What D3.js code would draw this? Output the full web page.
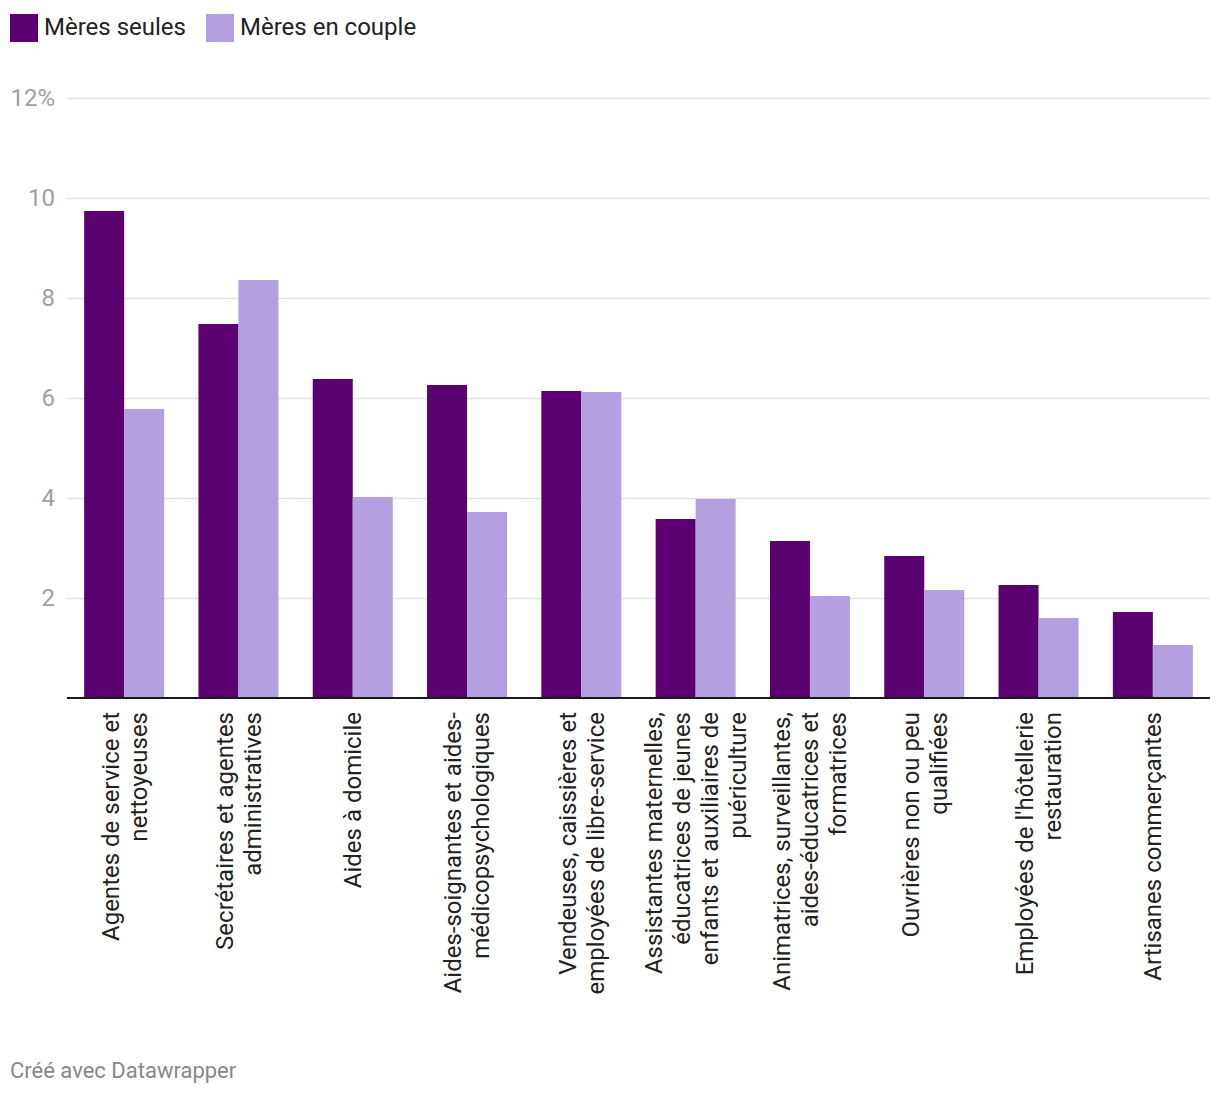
<!DOCTYPE html>
<html><head><meta charset="utf-8">
<script src="https://cdn.jsdelivr.net/npm/d3@7"></script>
<style>
body{margin:0;background:#fff;font-family:Roboto,"Noto Sans",sans-serif;}
</style></head>
<body><svg id="c" width="1220" height="1096"></svg>
<script>
const categoryLines = [
  ["Agentes de service et","nettoyeuses"],
  ["Secrétaires et agentes","administratives"],
  ["Aides à domicile"],
  ["Aides-soignantes et aides-","médicopsychologiques"],
  ["Vendeuses, caissières et","employées de libre-service"],
  ["Assistantes maternelles,","éducatrices de jeunes","enfants et auxiliaires de","puériculture"],
  ["Animatrices, surveillantes,","aides-éducatrices et","formatrices"],
  ["Ouvrières non ou peu","qualifiées"],
  ["Employées de l'hôtellerie","restauration"],
  ["Artisanes commerçantes"]
];
const categories = categoryLines.map(l => l.join(" "));
const seriesNames = ["Mères seules","Mères en couple"];
const meresSeules = [9.74,7.48,6.38,6.26,6.14,3.58,3.14,2.84,2.26,1.72];
const meresCouple = [5.78,8.36,4.02,3.72,6.12,3.98,2.04,2.16,1.60,1.06];
const yTicks = [2,4,6,8,10,12];
const colors = ["#5a0070","#b4a0e0"];

(function(){
const svg = d3.select("#c");
const mL = 67, mR = 1210, mT = 98, mB = 698;
const x = d3.scaleBand().domain(categories).range([mL,mR]).paddingInner(0.3).paddingOuter(0.15);
const xs = d3.scaleBand().domain(seriesNames).range([0,x.bandwidth()]);
const y = d3.scaleLinear().domain([0,12]).range([mB,mT]);

// legend
const lg = svg.append("g");
const legX = [10,206];
seriesNames.forEach((s,i)=>{
  lg.append("rect").attr("x",legX[i]).attr("y",14).attr("width",28).attr("height",28).attr("fill",colors[i]);
  lg.append("text").attr("x",legX[i]+34).attr("y",27).attr("dy","0.35em")
    .attr("font-size",24).attr("fill","#222").text(s);
});

// gridlines & ticks
const yAxis = d3.axisLeft(y).tickValues(yTicks).tickSize(-(mR-mL)).tickFormat(d=> d===12? "12%" : d);
const ga = svg.append("g").attr("transform",`translate(${mL},0)`).call(yAxis);
ga.select(".domain").remove();
ga.selectAll(".tick line").attr("stroke","#e2e2e2").attr("stroke-width",1.5);
ga.selectAll(".tick text").attr("x",-12).attr("font-size",24).attr("fill","#a0a0a0")
  .attr("font-family","Roboto").attr("text-anchor","end");

// bars
const data = categories.map((c,i)=>({c, v:[meresSeules[i],meresCouple[i]]}));
const g = svg.append("g");
data.forEach(d=>{
  seriesNames.forEach((s,j)=>{
    g.append("rect").attr("x",x(d.c)+xs(s)).attr("width",xs.bandwidth())
      .attr("y",y(d.v[j])).attr("height",y(0)-y(d.v[j])).attr("fill",colors[j]);
  });
});

// baseline
svg.append("line").attr("x1",mL).attr("x2",mR).attr("y1",y(0)).attr("y2",y(0))
  .attr("stroke","#1a1a1a").attr("stroke-width",2);

// category labels
const lblG = svg.append("g");
categories.forEach((c,i)=>{
  const lines = categoryLines[i];
  const cx = x(c)+x.bandwidth()/2;
  const n = lines.length;
  lines.forEach((ln,k)=>{
    const px = cx + (k-(n-1)/2)*28;
    lblG.append("text")
      .attr("transform",`translate(${px},712) rotate(-90)`)
      .attr("text-anchor","end").attr("dy","0.35em")
      .attr("font-size",24).attr("fill","#222").text(ln);
  });
});

// footer
svg.append("text").attr("x",10).attr("y",1078).attr("font-size",22).attr("fill","#888").text("Créé avec Datawrapper");
})();
</script></body></html>
